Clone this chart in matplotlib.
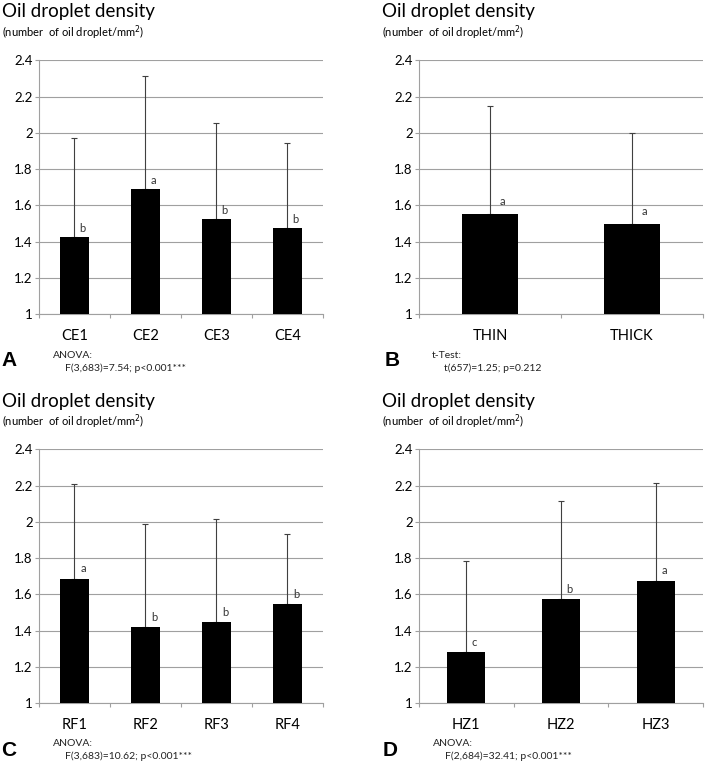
import numpy as np
import matplotlib
matplotlib.use('Agg')
import matplotlib.pyplot as plt
from matplotlib.ticker import FixedLocator, NullFormatter, FixedFormatter

plt.rcParams['font.family'] = ['Lato', 'DejaVu Sans']

# Panel A: CE
ce_labels = ['CE1', 'CE2', 'CE3', 'CE4']
ce_means = [1.424, 1.690, 1.524, 1.474]
ce_sd = [0.550, 0.622, 0.531, 0.471]
ce_letters = ['b', 'a', 'b', 'b']

# Panel B: thickness
th_labels = ['THIN', 'THICK']
th_means = [1.552, 1.496]
th_sd = [0.595, 0.504]
th_letters = ['a', 'a']

# Panel C: RF
rf_labels = ['RF1', 'RF2', 'RF3', 'RF4']
rf_means = [1.687, 1.420, 1.445, 1.548]
rf_sd = [0.521, 0.571, 0.572, 0.383]
rf_letters = ['a', 'b', 'b', 'b']

# Panel D: HZ
hz_labels = ['HZ1', 'HZ2', 'HZ3']
hz_means = [1.282, 1.573, 1.676]
hz_sd = [0.502, 0.541, 0.541]
hz_letters = ['c', 'b', 'a']

W, H = 708, 766
fig = plt.figure(figsize=(W / 100, H / 100), dpi=100)

grid_c = '#a0a0a0'


def px(x, y):
    # pixel coords (top-left origin) -> figure fraction
    return x / W, 1 - y / H


def panel(rect, labels, means, sd, letters, off=(5.5, 2)):
    ax = fig.add_axes(rect)
    n = len(labels)
    x = np.arange(n)
    ax.bar(x, np.array(means) - 1, bottom=1, width=0.4, color='black', zorder=3)
    ax.errorbar(x, means, yerr=[np.zeros(n), sd], fmt='none', ecolor='#404040',
                elinewidth=0.8, capsize=2, capthick=0.8, zorder=2)
    for xi, m, t in zip(x, means, letters):
        ax.annotate(t, (xi, m), xytext=off, textcoords='offset points',
                    ha='center', va='bottom', fontsize=8, color='#333333')
    ax.set_xlim(-0.5, n - 0.5)
    ax.set_ylim(1, 2.4)
    ax.set_yticks(np.arange(1, 2.41, 0.2))
    ax.set_yticklabels(['1', '1.2', '1.4', '1.6', '1.8', '2', '2.2', '2.4'])
    ax.yaxis.grid(True, color=grid_c, lw=0.8)
    ax.set_axisbelow(True)
    ax.xaxis.set_major_locator(FixedLocator(np.arange(-0.5, n, 1)))
    ax.xaxis.set_major_formatter(NullFormatter())
    ax.xaxis.set_minor_locator(FixedLocator(x))
    ax.xaxis.set_minor_formatter(FixedFormatter(labels))
    ax.tick_params(axis='x', which='major', length=3, color=grid_c, width=0.8)
    ax.tick_params(axis='x', which='minor', length=0, pad=11, labelsize=10.5)
    ax.tick_params(axis='y', length=3, color=grid_c, width=0.8, labelsize=9.5, pad=1.5)
    for s in ['top', 'right']:
        ax.spines[s].set_visible(False)
    for s in ['left', 'bottom']:
        ax.spines[s].set_color(grid_c)
        ax.spines[s].set_linewidth(0.8)
    return ax


aw, ah = 0.4011, 0.331
panel([39 / W, 1 - 314 / H, aw, ah], ce_labels, ce_means, ce_sd, ce_letters)
panel([419 / W, 1 - 314 / H, aw, ah], th_labels, th_means, th_sd, th_letters, off=(9, 5))
panel([39 / W, 1 - 703 / H, aw, ah], rf_labels, rf_means, rf_sd, rf_letters, off=(6.5, 3))
panel([419 / W, 1 - 703 / H, aw, ah], hz_labels, hz_means, hz_sd, hz_letters, off=(6, 3))

# titles
for tx, ty in [(2, 12), (382, 12), (2, 401), (382, 401)]:
    fig.text(*px(tx, ty), 'Oil droplet density', fontsize=13.5, va='center', ha='left')
    fig.text(*px(tx, ty + 21), '(number  of oil droplet/mm$^2$)', fontsize=8,
             va='center', ha='left')

# stats and panel letters
stats = [
    ('A', 1, 361, 53, 355, 'ANOVA:', 'F(3,683)=7.54; p<0.001***'),
    ('B', 385, 361, 432, 355, 't-Test:', 't(657)=1.25; p=0.212'),
    ('C', 1, 751, 53, 743, 'ANOVA:', 'F(3,683)=10.62; p<0.001***'),
    ('D', 383, 751, 433, 743, 'ANOVA:', 'F(2,684)=32.41; p<0.001***'),
]
for let, lx, ly, sx, sy, s1, s2 in stats:
    fig.text(*px(lx, ly), let, fontsize=15, fontweight='bold',
             family='Liberation Sans', va='center', ha='left')
    fig.text(*px(sx, sy), s1, fontsize=7.5, va='center', ha='left', color='#222222')
    fig.text(*px(sx + 12, sy + 13), s2, fontsize=7.5, va='center', ha='left', color='#222222')

fig.savefig('out.png', dpi=100)
